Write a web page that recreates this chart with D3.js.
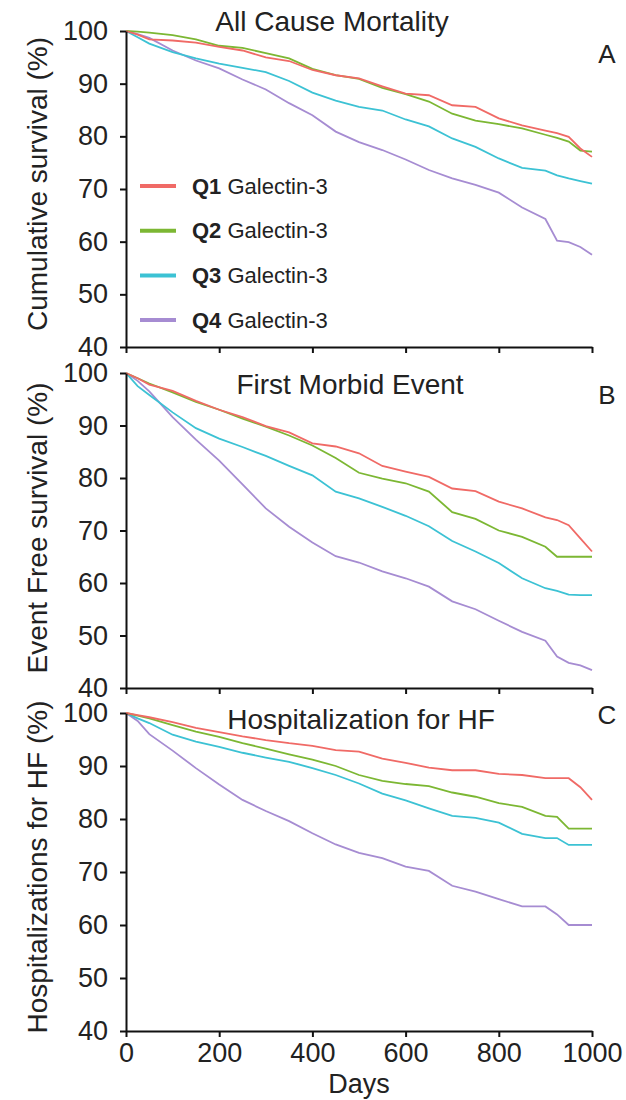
<!DOCTYPE html>
<html>
<head>
	<meta charset="utf-8">
	<title></title>
	<script src="https://d3js.org/d3.v7.min.js"></script>
	<style>
		body { margin: 0; background: #fff; }
		text { font-family: "Liberation Sans", Arial, sans-serif; fill: #222; }
	</style>
</head>
<body>

<script>

var width = 626
var height = 1100

var days = [0, 25, 50, 100, 150, 200, 250, 300, 350, 400, 450, 500, 550, 600, 650, 700, 750, 800, 850, 900, 925, 950, 975, 1000]

var groups = ['Q1', 'Q2', 'Q3', 'Q4']
var colors = ['#f06a66', '#7cb733', '#3cc2d4', '#a68cd2']

var yTicks = [40, 50, 60, 70, 80, 90, 100]
var xTicks = [0, 200, 400, 600, 800, 1000]

// A - all cause mortality
var mortalityQ1 = [100, 99.3, 98.4, 98.2, 97.8, 97.0, 96.3, 95.0, 94.3, 92.6, 91.6, 91.0, 89.5, 88.1, 87.8, 85.9, 85.6, 83.4, 82.1, 81.1, 80.6, 79.9, 77.7, 76.1]
var mortalityQ2 = [100, 99.9, 99.7, 99.2, 98.4, 97.2, 96.8, 95.8, 94.8, 92.8, 91.6, 90.9, 89.2, 88.0, 86.6, 84.3, 83.0, 82.3, 81.5, 80.3, 79.7, 79.0, 77.3, 77.1]
var mortalityQ3 = [100, 98.8, 97.6, 96.0, 94.8, 93.8, 93.0, 92.2, 90.5, 88.3, 86.8, 85.6, 84.9, 83.2, 81.9, 79.6, 78.0, 75.8, 74.0, 73.5, 72.6, 72.0, 71.5, 71.0]
var mortalityQ4 = [100, 99.4, 98.7, 96.3, 94.4, 92.9, 90.8, 88.9, 86.3, 84.0, 80.9, 78.9, 77.4, 75.6, 73.6, 72.0, 70.8, 69.3, 66.5, 64.3, 60.2, 59.9, 59.0, 57.5]

// B - first morbid event
var morbidQ1 = [100, 99.0, 97.8, 96.6, 94.7, 93.0, 91.6, 89.9, 88.7, 86.6, 86.0, 84.7, 82.3, 81.2, 80.2, 78.0, 77.5, 75.5, 74.2, 72.5, 72.0, 71.0, 68.5, 66.0]
var morbidQ2 = [100, 99.0, 98.0, 96.3, 94.5, 93.0, 91.3, 89.8, 88.1, 86.2, 83.8, 81.0, 79.9, 79.0, 77.4, 73.5, 72.2, 70.0, 68.8, 66.9, 65.0, 65.0, 65.0, 65.0]
var morbidQ3 = [100, 97.5, 95.8, 92.5, 89.5, 87.5, 85.9, 84.2, 82.3, 80.5, 77.4, 76.1, 74.5, 72.8, 70.8, 68.0, 66.0, 63.8, 60.9, 59.0, 58.5, 57.8, 57.7, 57.7]
var morbidQ4 = [100, 98.5, 96.5, 91.6, 87.3, 83.3, 78.8, 74.2, 70.7, 67.7, 65.1, 63.9, 62.2, 60.9, 59.3, 56.5, 55.0, 52.8, 50.7, 49.0, 46.0, 44.8, 44.3, 43.4]

// C - hospitalization for HF
var hfQ1 = [100, 99.6, 99.2, 98.3, 97.2, 96.4, 95.6, 94.9, 94.3, 93.8, 93.0, 92.7, 91.4, 90.6, 89.7, 89.2, 89.2, 88.5, 88.3, 87.7, 87.7, 87.7, 86.0, 83.6]
var hfQ2 = [100, 99.5, 99.0, 97.7, 96.5, 95.5, 94.3, 93.3, 92.2, 91.2, 90.0, 88.3, 87.2, 86.6, 86.2, 85.0, 84.2, 83.0, 82.3, 80.6, 80.4, 78.2, 78.2, 78.2]
var hfQ3 = [100, 99.0, 98.1, 95.9, 94.6, 93.6, 92.5, 91.6, 90.8, 89.6, 88.3, 86.7, 84.8, 83.5, 82.0, 80.6, 80.2, 79.3, 77.2, 76.4, 76.4, 75.1, 75.1, 75.1]
var hfQ4 = [100, 98.5, 96.0, 92.9, 89.6, 86.5, 83.6, 81.5, 79.6, 77.3, 75.2, 73.6, 72.6, 71.0, 70.2, 67.4, 66.3, 64.9, 63.5, 63.5, 62.0, 60.0, 60.0, 60.0]

var panels = [
	{title: 'All Cause Mortality', ylabel: 'Cumulative survival (%)', letter: 'A', top: 31, bottom: 347, series: [mortalityQ1, mortalityQ2, mortalityQ3, mortalityQ4], titleX: 332, titleY: 31, letterY: 63, ylabelY: 184},
	{title: 'First Morbid Event', ylabel: 'Event Free survival (%)', letter: 'B', top: 373, bottom: 688, series: [morbidQ1, morbidQ2, morbidQ3, morbidQ4], titleX: 350, titleY: 394, letterY: 404, ylabelY: 528},
	{title: 'Hospitalization for HF', ylabel: 'Hospitalizations for HF (%)', letter: 'C', top: 713, bottom: 1031, series: [hfQ1, hfQ2, hfQ3, hfQ4], titleX: 361, titleY: 729, letterY: 724, ylabelY: 867}
]

var svg = d3.select('body').append('svg')
	.attr('width', width)
	.attr('height', height)

var x = d3.scaleLinear().domain([0, 1000]).range([126, 592])

panels.forEach(function(p, pi) {
	var y = d3.scaleLinear().domain([40, 100]).range([p.bottom, p.top])
	var g = svg.append('g')

	var line = d3.line()
		.x(function(d, i) { return x(days[i]) })
		.y(function(d) { return y(d) })

	// curves (Q4 first so Q1 ends up on top)
	for (var s = p.series.length - 1; s >= 0; s--) {
		g.append('path')
			.datum(p.series[s])
			.attr('d', line)
			.attr('fill', 'none')
			.attr('stroke', colors[s])
			.attr('stroke-width', 1.8)
	}

	var yAxis = g.append('g')
		.attr('transform', 'translate(' + x(0) + ',0)')
		.call(d3.axisLeft(y).tickValues(yTicks).tickSize(6).tickSizeOuter(0).tickPadding(12))
	var xAxis = g.append('g')
		.attr('transform', 'translate(0,' + p.bottom + ')')
		.call(d3.axisBottom(x).tickValues(xTicks).tickFormat(d3.format('d')).tickSize(6).tickSizeOuter(0).tickPadding(6))
	if (pi < 2) xAxis.selectAll('.tick text').remove()

	g.selectAll('.domain, .tick line').attr('stroke', '#111').attr('stroke-width', 2)
	g.selectAll('.tick text').style('font-size', '27px').attr('fill', '#222')

	g.append('text')
		.attr('x', p.titleX).attr('y', p.titleY)
		.attr('text-anchor', 'middle')
		.style('font-size', '28px')
		.text(p.title)

	g.append('text')
		.attr('x', 607).attr('y', p.letterY)
		.attr('text-anchor', 'middle')
		.style('font-size', '26px')
		.text(p.letter)

	g.append('text')
		.attr('transform', 'translate(47,' + p.ylabelY + ') rotate(-90)')
		.attr('text-anchor', 'middle')
		.style('font-size', '28px')
		.text(p.ylabel)
})

svg.append('text')
	.attr('x', 359).attr('y', 1093)
	.attr('text-anchor', 'middle')
	.style('font-size', '27px')
	.text('Days')

// legend inside panel A
var legend = svg.append('g')
	.selectAll('g')
	.data(groups)
	.enter().append('g')
	.attr('transform', function(d, i) { return 'translate(0,' + (186 + i * 44.7) + ')' })

legend.append('line')
	.attr('x1', 140).attr('x2', 176)
	.attr('stroke', function(d, i) { return colors[i] })
	.attr('stroke-width', 4)

var lt = legend.append('text')
	.attr('x', 192)
	.attr('dy', '0.35em')
	.style('font-size', '22px')
lt.append('tspan').style('font-weight', 'bold').text(function(d) { return d })
lt.append('tspan').text(' Galectin-3')

</script>

</body>
</html>
